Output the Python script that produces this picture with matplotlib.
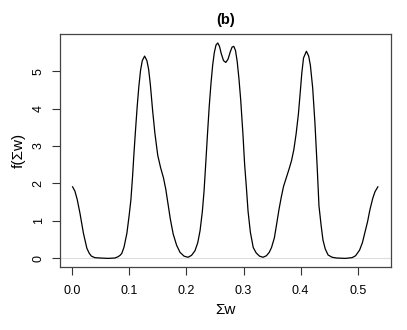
import matplotlib
matplotlib.use('Agg')
import matplotlib.pyplot as plt

plt.rcParams['font.family'] = ['Liberation Sans', 'DejaVu Sans']

# density curve
sum_w = [0.001, 0.005, 0.009, 0.014, 0.020, 0.026, 0.030, 0.034, 0.040, 0.049,
         0.063, 0.075, 0.080, 0.084, 0.087, 0.091, 0.096, 0.100, 0.103, 0.106,
         0.108, 0.111, 0.114, 0.117, 0.120, 0.123, 0.127, 0.131, 0.134, 0.137,
         0.141, 0.145, 0.150, 0.155, 0.160, 0.164, 0.168, 0.172, 0.177, 0.183,
         0.189, 0.196, 0.203, 0.209, 0.215, 0.220, 0.224, 0.228, 0.231, 0.234,
         0.237, 0.240, 0.243, 0.246, 0.249, 0.252, 0.255, 0.258, 0.261, 0.265,
         0.269, 0.273, 0.277, 0.280, 0.283, 0.286, 0.289, 0.292, 0.295, 0.299,
         0.302, 0.305, 0.308, 0.312, 0.317, 0.322, 0.328, 0.334, 0.340, 0.345,
         0.349, 0.354, 0.358, 0.362, 0.366, 0.370, 0.375, 0.380, 0.384, 0.388,
         0.392, 0.396, 0.399, 0.402, 0.405, 0.410, 0.414, 0.417, 0.421, 0.425,
         0.429, 0.432, 0.436, 0.439, 0.443, 0.448, 0.455, 0.463, 0.478, 0.490,
         0.496, 0.503, 0.508, 0.512, 0.517, 0.521, 0.526, 0.530, 0.535]
dens = [1.91, 1.80, 1.58, 1.20, 0.67, 0.27, 0.14, 0.06, 0.02, 0.01,
        0.00, 0.01, 0.04, 0.08, 0.13, 0.30, 0.67, 1.15, 1.56, 2.20,
        2.71, 3.40, 4.05, 4.60, 5.03, 5.28, 5.40, 5.28, 5.05, 4.65,
        3.95, 3.34, 2.75, 2.42, 2.15, 1.85, 1.45, 1.05, 0.65, 0.35,
        0.16, 0.06, 0.03, 0.08, 0.20, 0.42, 0.74, 1.25, 1.80, 2.55,
        3.32, 4.05, 4.65, 5.15, 5.50, 5.70, 5.75, 5.66, 5.47, 5.28,
        5.23, 5.32, 5.52, 5.64, 5.66, 5.55, 5.25, 4.80, 4.25, 3.32,
        2.50, 1.90, 1.25, 0.70, 0.29, 0.15, 0.06, 0.03, 0.07, 0.16,
        0.29, 0.55, 0.92, 1.30, 1.63, 1.92, 2.16, 2.40, 2.61, 2.90,
        3.32, 3.85, 4.39, 4.95, 5.35, 5.53, 5.40, 5.15, 4.55, 3.60,
        2.40, 1.40, 0.85, 0.49, 0.25, 0.09, 0.03, 0.01, 0.00, 0.02,
        0.07, 0.22, 0.42, 0.67, 0.98, 1.29, 1.60, 1.78, 1.91]

xticks = [0.0, 0.1, 0.2, 0.3, 0.4, 0.5]
yticks = [0, 1, 2, 3, 4, 5]

fig = plt.figure(figsize=(4.07, 3.30), dpi=100)
ax = fig.add_axes([0.1474, 0.1909, 0.8133, 0.7061])

ax.axhline(0, color='#dddddd', lw=0.8, zorder=1)
ax.plot(sum_w, dens, color='black', lw=0.9, zorder=2)

ax.set_xlim(-0.021, 0.558)
ax.set_ylim(-0.23, 5.99)
ax.set_xticks(xticks)
ax.set_xticklabels(['%.1f' % v for v in xticks])
ax.set_yticks(yticks)
ax.set_yticklabels([str(v) for v in yticks], rotation=90, va='center')
ax.tick_params(direction='out', length=6, width=0.8, color='#333333',
               labelsize=9, pad=7)
ax.tick_params(axis='y', pad=5)
for s in ax.spines.values():
    s.set_color('#444444')
    s.set_linewidth(0.9)

ax.set_xlabel('\u03a3w', fontsize=11, labelpad=4)
ax.set_ylabel('f(\u03a3w)', fontsize=11, labelpad=5)
ax.set_title('(b)', fontsize=10.5, fontweight='bold', pad=7)

fig.savefig('out.png', dpi=100)
